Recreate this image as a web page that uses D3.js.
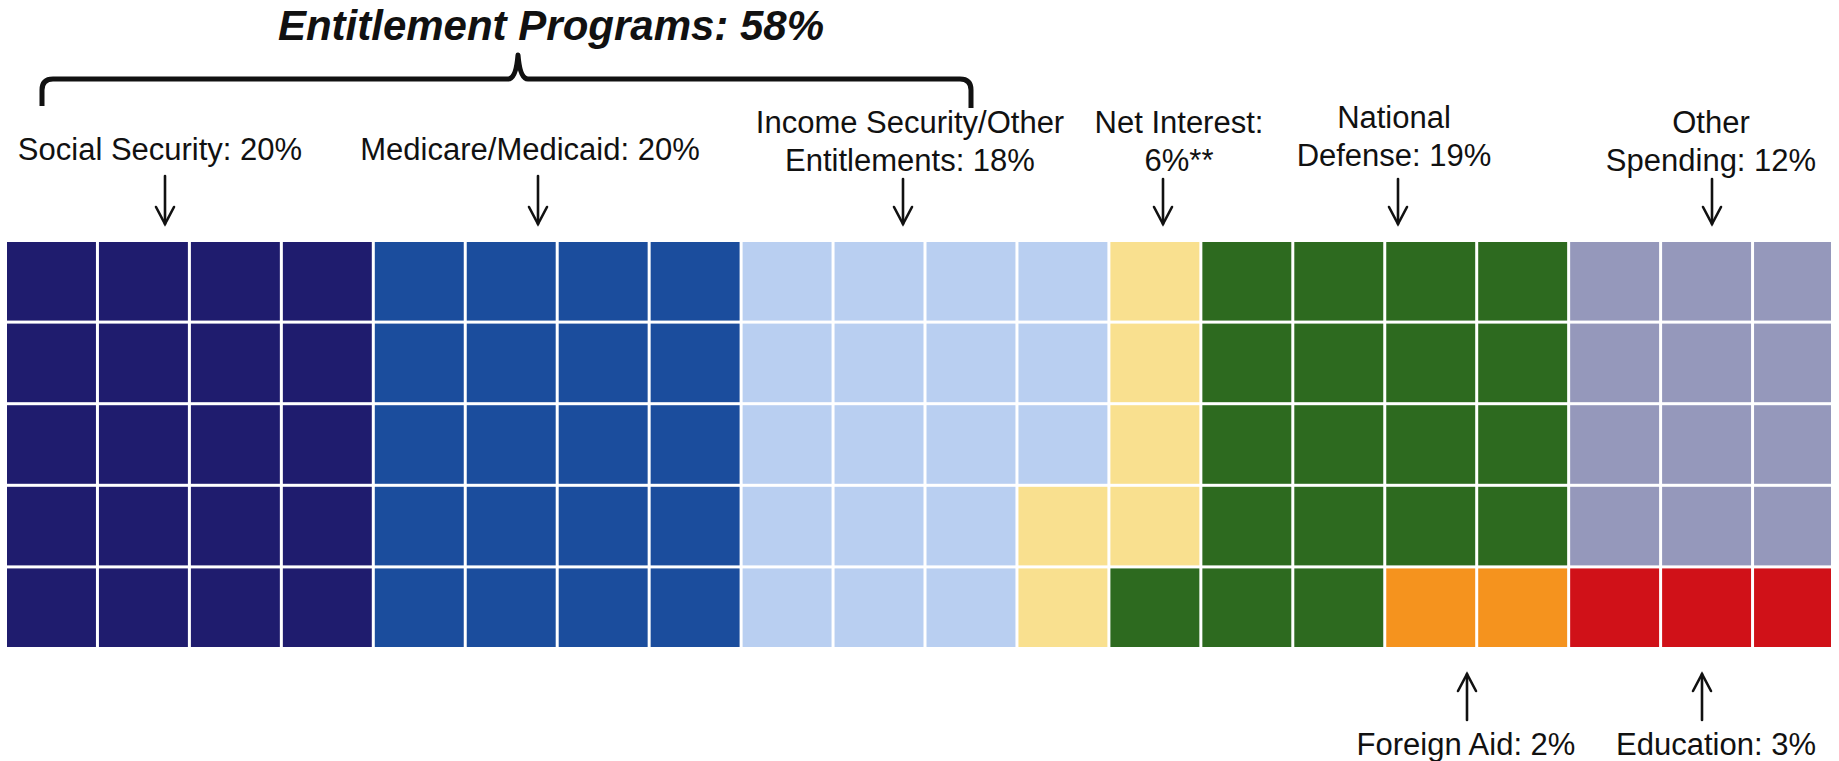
<!DOCTYPE html>
<html>
<head>
<meta charset="utf-8">
<script src="https://cdn.jsdelivr.net/npm/d3@7"></script>
<style>
  html, body { margin: 0; padding: 0; background: #ffffff; }
  svg { display: block; }
  text { font-family: "Liberation Sans", Arial, Helvetica, sans-serif; fill: #111; }
</style>
</head>
<body>
<svg id="chart" width="1839" height="761"></svg>
<script>
// Federal spending shares, one square per percent (100 squares in total).
const categories = [
  "Social Security",
  "Medicare/Medicaid",
  "Income Security/Other Entitlements",
  "Net Interest",
  "National Defense",
  "Other Spending",
  "Foreign Aid",
  "Education"
];
const shares = [20, 20, 18, 6, 19, 12, 2, 3];
const suffixes = ["", "", "", "**", "", "", "", ""];
// Categories that make up the entitlement total
const entitlementGroup = ["Social Security", "Medicare/Medicaid", "Income Security/Other Entitlements"];
// Categories placed along the bottom row of the right-hand block
const bottomStrip = ["Foreign Aid", "Education"];
const colors = ["#1f1c6e", "#1b4d9d", "#b9cff1", "#f9e08f", "#2d6a1f", "#9598bb", "#f5931e", "#d01118"];

// ---- layout ----
const W = 1839, H = 761;
const nCols = 20, nRows = 5;
const stripStartCol = 15;      // bottom-row strip begins at this column
const gridLeft = 7, colPitch = 91.8, gridTop = 242, gridBottom = 647, gridClipRight = 1831;

const svg = d3.select("#chart");

const x = d3.scaleBand()
  .domain(d3.range(nCols))
  .range([gridLeft, gridLeft + nCols * colPitch])
  .paddingInner(3 / colPitch)
  .paddingOuter(0);
const y = d3.scaleBand()
  .domain(d3.range(nRows))
  .range([gridTop, gridBottom])
  .paddingInner(3 / ((gridBottom - gridTop) / nRows))
  .paddingOuter(0);
const color = d3.scaleOrdinal().domain(categories).range(colors);

// Main area: every column top to bottom, except the strip columns which lose their last row.
const mainSlots = [];
for (let c = 0; c < nCols; c++) {
  const rows = c < stripStartCol ? nRows : nRows - 1;
  for (let r = 0; r < rows; r++) mainSlots.push({ col: c, row: r });
}
const stripSlots = d3.range(stripStartCol, nCols).map(c => ({ col: c, row: nRows - 1 }));

const cells = [];
let mi = 0, si = 0;
categories.forEach((cat, i) => {
  const inStrip = bottomStrip.includes(cat);
  for (let k = 0; k < shares[i]; k++) {
    const slot = inStrip ? stripSlots[si++] : mainSlots[mi++];
    cells.push({ cat, ...slot });
  }
});

svg.append("defs").append("clipPath").attr("id", "gridClip")
  .append("rect").attr("x", 0).attr("y", 0).attr("width", gridClipRight).attr("height", H);

svg.append("g").attr("clip-path", "url(#gridClip)")
  .selectAll("rect").data(cells).join("rect")
  .attr("x", d => x(d.col))
  .attr("y", d => y(d.row))
  .attr("width", x.bandwidth())
  .attr("height", y.bandwidth())
  .attr("fill", d => color(d.cat));

// ---- title and brace over the entitlement programs ----
const entitlementTotal = d3.sum(categories.map((c, i) => entitlementGroup.includes(c) ? shares[i] : 0));
svg.append("text")
  .attr("x", 551).attr("y", 40)
  .attr("text-anchor", "middle")
  .style("font-size", "42px").style("font-weight", "bold").style("font-style", "italic")
  .text(`Entitlement Programs: ${entitlementTotal}%`);

const braceL = 42, braceR = 971, braceY = 79, braceTip = 518, braceTop = 55, braceEnd = 106;
svg.append("path")
  .attr("d", `M${braceL},${braceEnd} L${braceL},${braceY + 11} Q${braceL},${braceY} ${braceL + 11},${braceY}
              L${braceTip - 10},${braceY} Q${braceTip - 2},${braceY} ${braceTip},${braceTop}
              Q${braceTip + 2},${braceY} ${braceTip + 10},${braceY}
              L${braceR - 11},${braceY} Q${braceR},${braceY} ${braceR},${braceY + 11} L${braceR},${braceEnd + 2}`)
  .attr("fill", "none").attr("stroke", "#111").attr("stroke-width", 5)
  .attr("stroke-linejoin", "round");

// ---- category labels with arrows ----
// textX / arrowX in pixels; breakAfter = words on the first line (0 = single line)
const annotationLayout = [
  { cat: "Social Security",                    textX: 160,  arrowX: 165,  breakAfter: 0, baseline: 160, side: "top" },
  { cat: "Medicare/Medicaid",                  textX: 530,  arrowX: 538,  breakAfter: 0, baseline: 160, side: "top" },
  { cat: "Income Security/Other Entitlements", textX: 910,  arrowX: 903,  breakAfter: 2, baseline: 133, side: "top" },
  { cat: "Net Interest",                       textX: 1179, arrowX: 1163, breakAfter: 2, baseline: 133, side: "top" },
  { cat: "National Defense",                   textX: 1394, arrowX: 1398, breakAfter: 1, baseline: 128, side: "top" },
  { cat: "Other Spending",                     textX: 1711, arrowX: 1712, breakAfter: 1, baseline: 133, side: "top" },
  { cat: "Foreign Aid",                        textX: 1466, arrowX: 1467, breakAfter: 0, baseline: 755, side: "bottom" },
  { cat: "Education",                          textX: 1716, arrowX: 1702, breakAfter: 0, baseline: 755, side: "bottom" }
];
const lineGap = 38;

const labels = svg.append("g").style("font-size", "31px");
annotationLayout.forEach(a => {
  const i = categories.indexOf(a.cat);
  const full = `${a.cat}: ${shares[i]}%${suffixes[i]}`;
  const words = full.split(" ");
  const lines = a.breakAfter ? [words.slice(0, a.breakAfter).join(" "), words.slice(a.breakAfter).join(" ")] : [full];
  const t = labels.append("text").attr("text-anchor", "middle");
  lines.forEach((ln, k) => {
    t.append("tspan").attr("x", a.textX).attr("y", a.baseline + k * lineGap).text(ln);
  });

  // arrow: shaft plus open V head
  const twoLine = lines.length > 1;
  const y0 = a.side === "top" ? (twoLine ? 179 : 176) : 720;   // tail
  const y1 = a.side === "top" ? 224 : 674;                       // head tip
  const dir = a.side === "top" ? 1 : -1;
  const g = svg.append("g").attr("stroke", "#111").attr("stroke-width", 2.6).attr("fill", "none")
    .attr("stroke-linecap", "round").attr("stroke-linejoin", "miter");
  g.append("line").attr("x1", a.arrowX).attr("x2", a.arrowX).attr("y1", y0).attr("y2", y1);
  g.append("path").attr("d",
    `M${a.arrowX - 9},${y1 - dir * 17} L${a.arrowX},${y1} L${a.arrowX + 9},${y1 - dir * 17}`);
});
</script>
</body>
</html>
